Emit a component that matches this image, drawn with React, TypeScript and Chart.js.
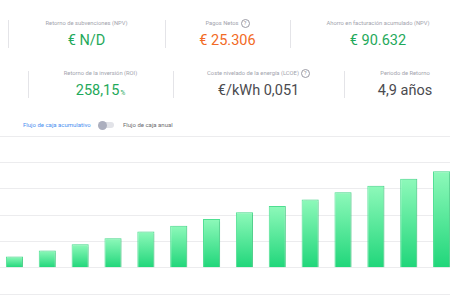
import React, { useEffect, useRef } from "react";
import { Chart, registerables } from "chart.js";

Chart.register(...registerables);

// ---- Data ----
const categories = ["Año 1", "Año 2", "Año 3", "Año 4", "Año 5", "Año 6", "Año 7", "Año 8", "Año 9", "Año 10", "Año 11", "Año 12", "Año 13", "Año 14"];
const cumulativeCashFlow = [8500, 13100, 17700, 22300, 27500, 31800, 36900, 42100, 46900, 51800, 57200, 62300, 67500, 73300];
const yMin = -20000;
const yMax = 100000;
const yStep = 20000;

const row1Labels = ["Retorno de subvenciones (NPV)", "Pagos Netos", "Ahorro en facturación acumulado (NPV)"];
const row1Values = ["€ N/D", "€ 25.306", "€ 90.632"];
const row2Labels = ["Retorno de la inversión (ROI)", "Coste nivelado de la energía (LCOE)", "Periodo de Retorno"];
const row2Values = ["258,15", "€/kWh 0,051", "4,9 años"];
const toggleLabels = ["Flujo de caja acumulativo", "Flujo de caja anual"];

const FONT = "Roboto, 'Noto Sans', sans-serif";
const LABEL_COLOR = "#a2a3ad";
const GREEN = "#1fa95b";
const ORANGE = "#f26a25";
const DARK = "#4b4b4f";

const Help = () => (
  <span
    style={{
      display: "inline-block",
      width: 7,
      height: 7,
      border: "1px solid #9a9aa4",
      borderRadius: "50%",
      fontSize: 5.5,
      lineHeight: "7px",
      textAlign: "center",
      color: "#8a8a94",
      marginLeft: 2,
      verticalAlign: "middle",
    }}
  >
    ?
  </span>
);

const Sep = ({ x, y1, y2 }: { x: number; y1: number; y2: number }) => (
  <div style={{ position: "absolute", left: x, top: y1, width: 1, height: y2 - y1, background: "#e4e4e8" }} />
);

const Stat = ({ left, right, labelTop, valueTop, label, value, color, help, suffix }: any) => (
  <>
    <div
      style={{
        position: "absolute",
        left,
        width: right - left,
        top: labelTop,
        textAlign: "center",
        fontSize: 5.8,
        lineHeight: "8px",
        color: LABEL_COLOR,
        whiteSpace: "nowrap",
      }}
    >
      {label}
      {help ? <Help /> : null}
    </div>
    <div
      style={{
        position: "absolute",
        left,
        width: right - left,
        top: valueTop,
        textAlign: "center",
        fontSize: 14.5,
        lineHeight: "18px",
        color,
        whiteSpace: "nowrap",
      }}
    >
      {value}
      {suffix ? <span style={{ fontSize: 6.5, marginLeft: 1 }}>{suffix}</span> : null}
    </div>
  </>
);

export default function App() {
  const canvasRef = useRef<HTMLCanvasElement | null>(null);

  useEffect(() => {
    const canvas = canvasRef.current;
    if (!canvas) return;
    const shadowPlugin = {
      id: "barShadow",
      beforeDatasetsDraw(chart: any) {
        const c = chart.ctx;
        c.save();
        c.shadowColor = "rgba(60,120,90,0.18)";
        c.shadowOffsetX = 2;
        c.shadowOffsetY = 0;
        c.shadowBlur = 1;
      },
      afterDatasetsDraw(chart: any) {
        chart.ctx.restore();
      },
    };
    const chart = new Chart(canvas, {
      type: "bar",
      data: {
        labels: categories,
        datasets: [
          {
            label: "Flujo de caja acumulativo",
            data: cumulativeCashFlow,
            backgroundColor: (ctx: any) => {
              const ch = ctx.chart;
              const area = ch.chartArea;
              if (!area || ctx.type !== "data") return "#5fe79a";
              const y = ch.scales.y;
              const top = y.getPixelForValue(ctx.raw);
              const bot = y.getPixelForValue(0);
              const g = ch.ctx.createLinearGradient(0, top, 0, bot);
              g.addColorStop(0, "#8ef9ba");
              g.addColorStop(1, "#20d67a");
              return g;
            },
            borderColor: "#4fe092",
            borderWidth: 1,
            categoryPercentage: 1,
            barPercentage: 0.52,
          },
        ],
      },
      options: {
        animation: false,
        responsive: false,
        devicePixelRatio: 1,
        layout: { padding: { top: 1, bottom: 1, left: 0, right: 0 } },
        plugins: { legend: { display: false }, tooltip: { enabled: false } },
        scales: {
          x: { display: false },
          y: {
            min: yMin,
            max: yMax,
            ticks: { display: false, stepSize: yStep },
            border: { display: false },
            grid: { color: "#ececee", drawTicks: false, lineWidth: 1 },
          },
        },
      },
      plugins: [shadowPlugin],
    });
    return () => chart.destroy();
  }, []);

  return (
    <div
      style={{
        position: "fixed",
        left: 0,
        top: 0,
        width: 450,
        height: 300,
        overflow: "hidden",
        background: "#fff",
        fontFamily: FONT,
      }}
    >
      <Sep x={8} y1={20} y2={48} />
      <Sep x={165} y1={20} y2={48} />
      <Sep x={290} y1={20} y2={48} />
      <Stat left={8} right={165} labelTop={19} valueTop={32} label={row1Labels[0]} value={row1Values[0]} color={GREEN} />
      <Stat left={165} right={290} labelTop={19} valueTop={32} label={row1Labels[1]} value={row1Values[1]} color={ORANGE} help />
      <Stat left={290} right={466} labelTop={19} valueTop={32} label={row1Labels[2]} value={row1Values[2]} color={GREEN} />

      <Sep x={28} y1={71} y2={98} />
      <Sep x={173} y1={71} y2={98} />
      <Sep x={344} y1={71} y2={98} />
      <Stat left={28} right={173} labelTop={69} valueTop={82} label={row2Labels[0]} value={row2Values[0]} color={GREEN} suffix="%" />
      <Stat left={173} right={344} labelTop={69} valueTop={82} label={row2Labels[1]} value={row2Values[1]} color={DARK} help />
      <Stat left={344} right={466} labelTop={69} valueTop={82} label={row2Labels[2]} value={row2Values[2]} color={DARK} />

      <div style={{ position: "absolute", left: 23, top: 121, fontSize: 6, lineHeight: "8px", color: "#4a8ff0", whiteSpace: "nowrap" }}>
        {toggleLabels[0]}
      </div>
      <div style={{ position: "absolute", left: 99, top: 122, width: 15, height: 6, borderRadius: 3, background: "#e2e3e8" }} />
      <div style={{ position: "absolute", left: 98, top: 120.5, width: 9, height: 9, borderRadius: "50%", background: "#acafbe" }} />
      <div style={{ position: "absolute", left: 123, top: 121, fontSize: 6, lineHeight: "8px", color: "#6b6b70", whiteSpace: "nowrap" }}>
        {toggleLabels[1]}
      </div>

      <canvas
        ref={canvasRef}
        width={460}
        height={160}
        style={{ position: "absolute", left: -2, top: 135, width: 460, height: 160 }}
      />
    </div>
  );
}
